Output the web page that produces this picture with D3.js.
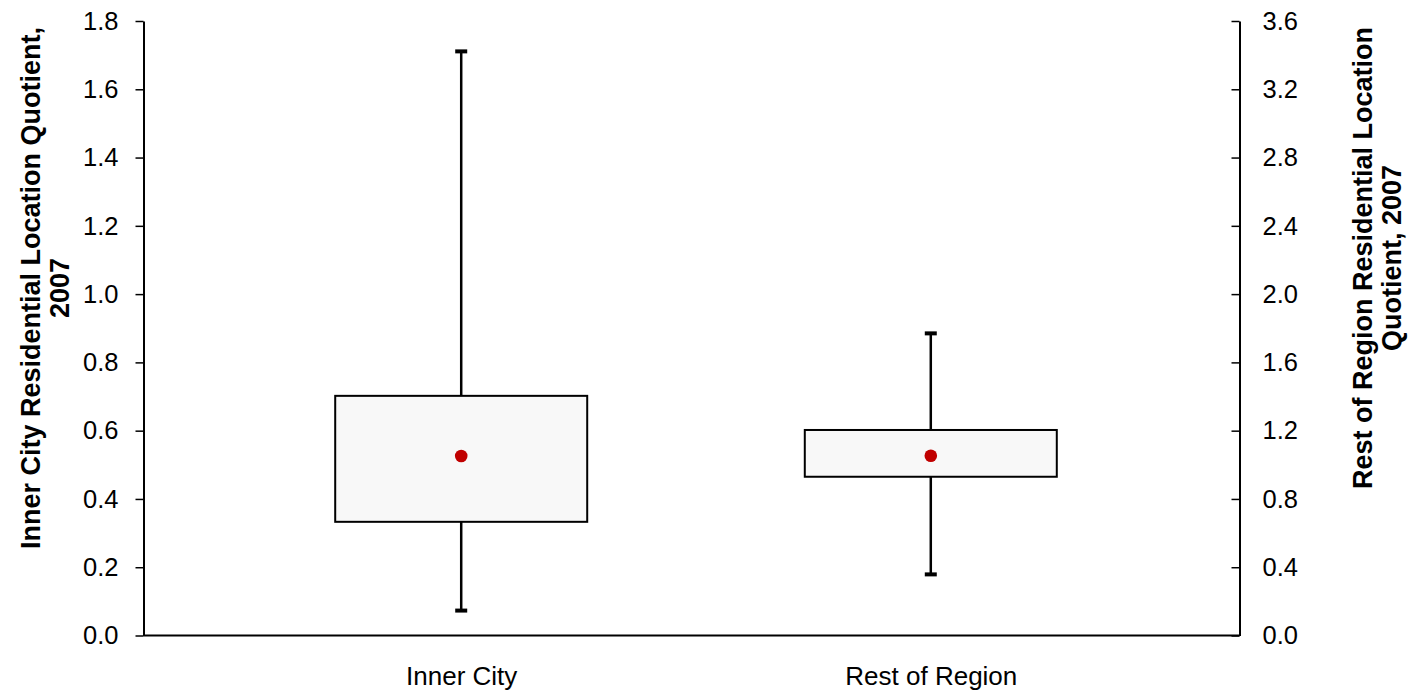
<!DOCTYPE html>
<html>
<head>
<meta charset="utf-8">
<script src="https://cdn.jsdelivr.net/npm/d3@7"></script>
<style>
  html, body { margin: 0; padding: 0; background: #fff; }
  svg text { font-family: "Liberation Sans", Arial, sans-serif; fill: #000; }
</style>
</head>
<body>
<svg id="chart" width="1408" height="692"></svg>
<script>
// Box plot summaries; Inner City is read on the left axis, Rest of Region on the right axis
const categories = ["Inner City", "Rest of Region"];
const whiskerMax = [1.711, 1.770];
const boxTop     = [0.702, 1.204];
const mean       = [0.526, 1.053];
const boxBottom  = [0.333, 0.930];
const whiskerMin = [0.073, 0.358];
const leftTicks  = [0, 0.2, 0.4, 0.6, 0.8, 1.0, 1.2, 1.4, 1.6, 1.8];
const rightTicks = [0, 0.4, 0.8, 1.2, 1.6, 2.0, 2.4, 2.8, 3.2, 3.6];

const svg = d3.select("#chart");
const plot = { left: 143.5, right: 1239.5, top: 21, bottom: 635.5 };

const x = d3.scalePoint().domain(categories)
  .range([plot.left + 4.5, plot.right + 4.5]).padding(0.667);
const yLeft = d3.scaleLinear().domain([0, 1.8]).range([plot.bottom, plot.top]);
const yRight = d3.scaleLinear().domain([0, 3.6]).range([plot.bottom, plot.top]);
const yFor = i => (i === 0 ? yLeft : yRight);

const boxWidth = 252;
const capWidth = 12;
const tickFont = 25.5;

// Left axis
const gl = svg.append("g").attr("transform", `translate(${plot.left},0)`)
  .call(d3.axisLeft(yLeft).tickValues(leftTicks).tickFormat(d3.format(".1f"))
    .tickSize(8).tickSizeOuter(0).tickPadding(17));
gl.select(".domain").attr("stroke", "#000").attr("stroke-width", 2);
gl.selectAll(".tick line").attr("stroke", "#000").attr("stroke-width", 1.5);
gl.selectAll(".tick text").attr("font-size", tickFont);

// Right axis, ticks pointing into the plot
const gr = svg.append("g").attr("transform", `translate(${plot.right},0)`)
  .call(d3.axisRight(yRight).tickValues(rightTicks).tickFormat(d3.format(".1f"))
    .tickSize(-8).tickSizeOuter(0).tickPadding(23));
gr.select(".domain").attr("stroke", "#000").attr("stroke-width", 2);
gr.selectAll(".tick line").attr("stroke", "#000").attr("stroke-width", 1.5);
gr.selectAll(".tick text").attr("font-size", tickFont);

// Bottom axis
const gb = svg.append("g").attr("transform", `translate(0,${plot.bottom})`)
  .call(d3.axisBottom(x).tickSize(0).tickPadding(31));
gb.select(".domain").attr("stroke", "#000").attr("stroke-width", 2)
  .attr("d", `M${plot.left},0H${plot.right}`);
gb.selectAll(".tick text").attr("font-size", 26);

// Boxes
const boxes = svg.append("g").selectAll("g").data(categories).join("g");

boxes.append("line")
  .attr("x1", d => x(d)).attr("x2", d => x(d))
  .attr("y1", (d, i) => yFor(i)(whiskerMax[i]))
  .attr("y2", (d, i) => yFor(i)(whiskerMin[i]))
  .attr("stroke", "#000").attr("stroke-width", 2.5);

boxes.selectAll("line.cap")
  .data((d, i) => [whiskerMax[i], whiskerMin[i]].map(v => ({ cx: x(d), cy: yFor(i)(v) })))
  .join("line").attr("class", "cap")
  .attr("x1", c => c.cx - capWidth / 2).attr("x2", c => c.cx + capWidth / 2)
  .attr("y1", c => c.cy).attr("y2", c => c.cy)
  .attr("stroke", "#000").attr("stroke-width", 4);

boxes.append("rect")
  .attr("x", d => x(d) - boxWidth / 2)
  .attr("width", boxWidth)
  .attr("y", (d, i) => yFor(i)(boxTop[i]))
  .attr("height", (d, i) => yFor(i)(boxBottom[i]) - yFor(i)(boxTop[i]))
  .attr("fill", "#f8f8f8").attr("stroke", "#000").attr("stroke-width", 2);

boxes.append("circle")
  .attr("cx", d => x(d))
  .attr("cy", (d, i) => yFor(i)(mean[i]))
  .attr("r", 6.3)
  .attr("fill", "#c00000");

// Axis titles
const leftTitle = svg.append("text")
  .attr("transform", "translate(40,288) rotate(-90)")
  .attr("text-anchor", "middle").attr("font-size", 27).attr("font-weight", "bold");
leftTitle.append("tspan").attr("x", 0).attr("dy", 0).text("Inner City Residential Location Quotient,");
leftTitle.append("tspan").attr("x", 0).attr("dy", 29).text("2007");

const rightTitle = svg.append("text")
  .attr("transform", "translate(1372,258) rotate(-90)")
  .attr("text-anchor", "middle").attr("font-size", 27).attr("font-weight", "bold");
rightTitle.append("tspan").attr("x", 0).attr("dy", 0).text("Rest of Region Residential Location");
rightTitle.append("tspan").attr("x", 0).attr("dy", 29).text("Quotient, 2007");
</script>
</body>
</html>
